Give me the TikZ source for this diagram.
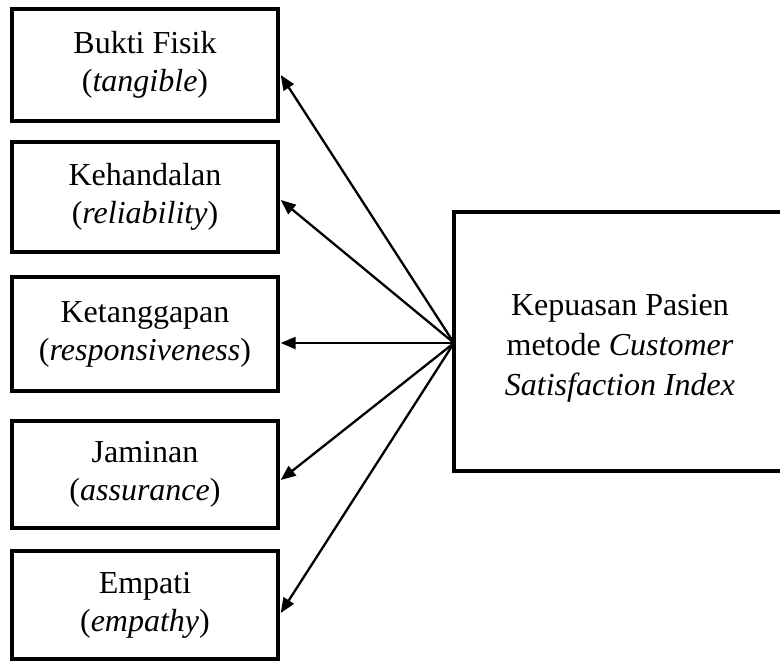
\documentclass[tikz,border=0pt]{standalone}
\usepackage{fontspec}
\setmainfont{Liberation Serif}
\usetikzlibrary{arrows.meta}
\tikzset{
  leftbox/.style={draw, line width=3.4pt, minimum width=266pt, inner sep=0pt, align=center,
    font=\fontsize{32}{38}\selectfont},
  satbox/.style={draw, line width=3.4pt, minimum width=332pt, minimum height=259pt, inner sep=0pt},
  sattext/.style={align=center, inner sep=0pt, font=\fontsize{32}{40}\selectfont},
  arr/.style={line width=2.3pt, -{Triangle[length=15pt,width=12pt]}}
}
\begin{document}
\begin{tikzpicture}[x=1pt,y=-1pt]
\useasboundingbox (0,0) rectangle (780,661);
\clip (0,0) rectangle (780,661);
\node[leftbox, minimum height=112pt] (b1) at (145,65) {Bukti Fisik\\(\textit{tangible})};
\node[leftbox, minimum height=110pt] (b2) at (145,197) {Kehandalan\\(\textit{reliability})};
\node[leftbox, minimum height=114pt] (b3) at (145,334) {Ketanggapan\\(\textit{responsiveness})};
\node[leftbox, minimum height=107pt] (b4) at (145,474.5) {Jaminan\\(\textit{assurance})};
\node[leftbox, minimum height=108pt] (b5) at (145,605) {Empati\\(\textit{empathy})};
\node[satbox] (sat) at (620,341.5) {};
\node[sattext] (satlabel) at (620,348) {Kepuasan Pasien\\metode \textit{Customer}\\\textit{Satisfaction Index}};
\coordinate (hub) at (454,343);
\draw[arr] (hub) -- ([xshift=1pt,yshift=-10pt]b1.east);
\draw[arr] (hub) -- ([xshift=1pt,yshift=-3pt]b2.east);
\draw[arr] (hub) -- ([xshift=1pt,yshift=-9pt]b3.east);
\draw[arr] (hub) -- ([xshift=1pt,yshift=-5.5pt]b4.east);
\draw[arr] (hub) -- ([xshift=1pt,yshift=-8pt]b5.east);
\end{tikzpicture}
\end{document}
